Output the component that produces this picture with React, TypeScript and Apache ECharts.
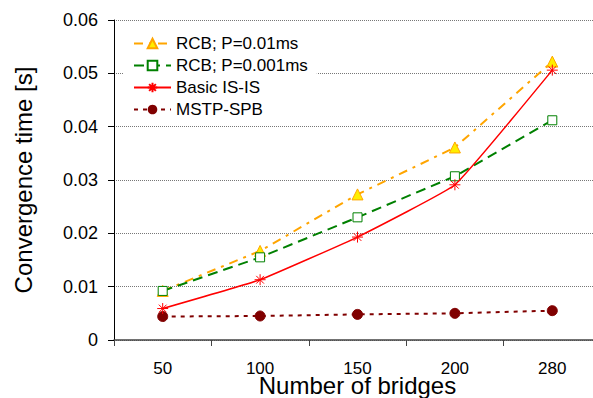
import React, { useEffect, useRef } from "react";
import * as echarts from "echarts";

const categories = ["50", "100", "150", "200", "280"];
const rcb001 = [0.0092, 0.0167, 0.0273, 0.0361, 0.0522];
const rcb0001 = [0.0092, 0.0155, 0.023, 0.0307, 0.0412];
const basicIsis = [0.0059, 0.0113, 0.0193, 0.0291, 0.0506];
const mstpSpb = [0.0044, 0.0045, 0.0048, 0.005, 0.0055];

const FONT = "Liberation Sans, Arial, sans-serif";

export default function App() {
  const ref = useRef<HTMLDivElement>(null);
  useEffect(() => {
    if (!ref.current) return;
    const chart = echarts.init(ref.current, null, { renderer: "svg" });
    const star =
      "path://M0,5L10,5M5,0L5,10M1.5,1.5L8.5,8.5M8.5,1.5L1.5,8.5";
    chart.setOption({
      animation: false,
      backgroundColor: "#fff",
      textStyle: { fontFamily: FONT },
      grid: {
        left: 114,
        top: 20,
        width: 487,
        height: 320,
        containLabel: false,
        outerBoundsMode: "none",
      },
      legend: {
        orient: "vertical",
        left: 124,
        top: 31,
        itemWidth: 37,
        itemHeight: 12,
        itemGap: 5,
        padding: [4, 9, 4, 9],
        backgroundColor: "#fff",
        textStyle: { fontSize: 17, color: "#000", fontFamily: FONT },
        data: ["RCB; P=0.01ms", "RCB; P=0.001ms", "Basic IS-IS", "MSTP-SPB"],
      },
      xAxis: {
        type: "category",
        data: categories,
        boundaryGap: true,
        name: "Number of bridges",
        nameLocation: "middle",
        nameGap: 33,
        nameMoveOverlap: false,
        nameTextStyle: { fontSize: 24, color: "#000", fontFamily: FONT },
        axisLine: { lineStyle: { color: "#444", width: 1.5 } },
        axisTick: { show: true, length: 6, lineStyle: { color: "#444" } },
        axisLabel: { fontSize: 17, color: "#000", margin: 20, fontFamily: FONT },
        splitLine: { show: false },
      },
      yAxis: {
        type: "value",
        min: 0,
        max: 0.06,
        interval: 0.01,
        name: "Convergence time [s]",
        nameLocation: "middle",
        nameGap: 79,
        nameMoveOverlap: false,
        nameTextStyle: { fontSize: 24, color: "#000", fontFamily: FONT },
        axisLine: { show: true, lineStyle: { color: "#000", width: 1 } },
        axisTick: { show: true, length: 6, lineStyle: { color: "#000" } },
        axisLabel: {
          fontSize: 18,
          color: "#000",
          margin: 16,
          fontFamily: FONT,
          formatter: (v: number) => (v === 0 ? "0" : v.toFixed(2)),
        },
        splitLine: { show: true, lineStyle: { color: "#777", type: [1, 1], width: 1 } },
      },
      series: [
        {
          name: "RCB; P=0.01ms",
          type: "line",
          data: rcb001,
          symbol: "triangle",
          symbolSize: 11,
          itemStyle: { color: "#FFEE00", borderColor: "#FFA500", borderWidth: 1 },
          lineStyle: { color: "#FFA500", width: 2, type: [9, 6, 3, 6] },
          z: 3,
        },
        {
          name: "RCB; P=0.001ms",
          type: "line",
          data: rcb0001,
          symbol: "rect",
          symbolSize: 9,
          itemStyle: { color: "#fff", borderColor: "#008000", borderWidth: 1 },
          lineStyle: { color: "#008000", width: 2, type: [10, 6] },
          z: 4,
        },
        {
          name: "Basic IS-IS",
          type: "line",
          data: basicIsis,
          symbol: star,
          symbolSize: 11,
          smooth: 0.1,
          itemStyle: { color: "none", borderColor: "#FF0000", borderWidth: 1 },
          lineStyle: { color: "#FF0000", width: 1.5 },
          z: 5,
        },
        {
          name: "MSTP-SPB",
          type: "line",
          data: mstpSpb,
          symbol: "circle",
          symbolSize: 10,
          itemStyle: { color: "#800000", borderColor: "#800000" },
          lineStyle: { color: "#800000", width: 2, type: [4, 5] },
          z: 2,
        },
      ],
    });
    return () => chart.dispose();
  }, []);
  return (
    <div
      ref={ref}
      style={{ position: "absolute", left: 0, top: 0, width: 593, height: 398 }}
    />
  );
}
